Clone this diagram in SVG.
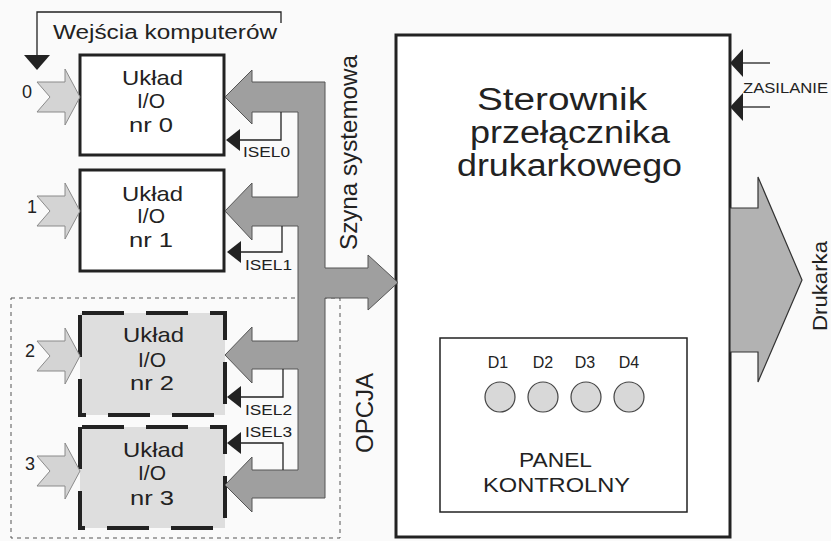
<svg xmlns="http://www.w3.org/2000/svg" width="831" height="541" viewBox="0 0 831 541">
<defs>
<style>
text{font-family:"Liberation Sans",Arial,sans-serif;fill:#222}
.box{fill:#fff;stroke:#222;stroke-width:3}
.dbox{fill:#dedede;stroke:#222;stroke-width:4;stroke-dasharray:42 22;stroke-dashoffset:-2}
.inp{fill:#d4d4d4;stroke:#8a8a8a;stroke-width:1}
.bus{fill:#9f9f9f;stroke:#555;stroke-width:1}
.ln{fill:none;stroke:#222;stroke-width:1.3}
.hd{fill:#222}
.bt{font-size:21px}
.isel{font-size:14px}
</style>
</defs>
<rect width="831" height="541" fill="#fafafa"/>
<g id="opcja">
<rect x="11" y="298" width="329" height="240" fill="none" stroke="#555" stroke-width="1" stroke-dasharray="4 4"/>
<text transform="translate(373,453) rotate(-90)" font-size="23" textLength="80" lengthAdjust="spacingAndGlyphs">OPCJA</text>
</g>
<g id="inputs-label">
<polyline class="ln" points="37,56 37,12 281,12 281,23"/>
<polygon class="hd" points="24,55 50,55 37,70"/>
<text x="53" y="39" font-size="20" textLength="224" lengthAdjust="spacingAndGlyphs">Wejścia  komputerów</text>
</g>
<g id="io0">
<rect class="box" x="80" y="55" width="144" height="100"/>
<text class="bt" x="122" y="85" textLength="61" lengthAdjust="spacingAndGlyphs">Układ</text>
<text class="bt" x="137" y="108" textLength="28" lengthAdjust="spacingAndGlyphs">I/O</text>
<text class="bt" x="129" y="132" textLength="44" lengthAdjust="spacingAndGlyphs">nr  0</text>
</g>
<g id="io1">
<rect class="box" x="80" y="170" width="144" height="101"/>
<text class="bt" x="122" y="201" textLength="61" lengthAdjust="spacingAndGlyphs">Układ</text>
<text class="bt" x="137" y="223" textLength="28" lengthAdjust="spacingAndGlyphs">I/O</text>
<text class="bt" x="129" y="247" textLength="44" lengthAdjust="spacingAndGlyphs">nr  1</text>
</g>
<g id="io2">
<rect class="dbox" x="80" y="313" width="145" height="102"/>
<text class="bt" x="123" y="342" textLength="61" lengthAdjust="spacingAndGlyphs">Układ</text>
<text class="bt" x="138" y="367" textLength="28" lengthAdjust="spacingAndGlyphs">I/O</text>
<text class="bt" x="130" y="390" textLength="44" lengthAdjust="spacingAndGlyphs">nr  2</text>
</g>
<g id="io3">
<rect class="dbox" x="80" y="427" width="145" height="101"/>
<text class="bt" x="123" y="457" textLength="61" lengthAdjust="spacingAndGlyphs">Układ</text>
<text class="bt" x="138" y="480" textLength="28" lengthAdjust="spacingAndGlyphs">I/O</text>
<text class="bt" x="130" y="505" textLength="44" lengthAdjust="spacingAndGlyphs">nr  3</text>
</g>
<g id="controller">
<rect x="396" y="35" width="334" height="502" fill="#fff" stroke="#222" stroke-width="3"/>
<text x="477" y="110" font-size="31" textLength="170" lengthAdjust="spacingAndGlyphs">Sterownik</text>
<text x="470" y="143" font-size="31" textLength="200" lengthAdjust="spacingAndGlyphs">przełącznika</text>
<text x="457" y="176" font-size="31" textLength="225" lengthAdjust="spacingAndGlyphs">drukarkowego</text>
</g>
<g id="panel">
<rect x="440" y="338" width="247" height="174" fill="#fff" stroke="#222" stroke-width="1.5"/>
<g font-size="16" text-anchor="middle">
<text x="498" y="368">D1</text>
<text x="543" y="368">D2</text>
<text x="585" y="368">D3</text>
<text x="629" y="368">D4</text>
</g>
<g fill="#d8d8d8" stroke="#444" stroke-width="1.2">
<circle cx="500" cy="397" r="15"/>
<circle cx="543" cy="397" r="15"/>
<circle cx="586" cy="397" r="15"/>
<circle cx="629" cy="397" r="15"/>
</g>
<text x="519" y="467" font-size="20" textLength="73" lengthAdjust="spacingAndGlyphs">PANEL</text>
<text x="483" y="492" font-size="20" textLength="147" lengthAdjust="spacingAndGlyphs">KONTROLNY</text>
</g>
<g id="connectors">
<g id="in0"><path class="inp" transform="translate(0,97)" d="M37,-15 L65,-15 L65,-28 L80,0 L65,28 L65,15 L37,15 L50,0 Z"/><text x="22" y="98" font-size="18">0</text></g>
<g id="in1"><path class="inp" transform="translate(0,211)" d="M37,-15 L65,-15 L65,-28 L80,0 L65,28 L65,15 L37,15 L50,0 Z"/><text x="27" y="213" font-size="18">1</text></g>
<g id="in2"><path class="inp" transform="translate(0,356)" d="M37,-15 L65,-15 L65,-28 L80,0 L65,28 L65,15 L37,15 L50,0 Z"/><text x="25" y="357" font-size="18">2</text></g>
<g id="in3"><path class="inp" transform="translate(0,471)" d="M37,-15 L65,-15 L65,-28 L80,0 L65,28 L65,15 L37,15 L50,0 Z"/><text x="25" y="470" font-size="18">3</text></g>
<path id="bus" class="bus" d="M225,97 L252,70 L252,82 L325,82 L325,268 L368,268 L368,255 L398,282.5 L368,310 L368,298 L325,298 L325,498 L252,498 L252,512 L225,485 L252,457 L252,470 L298,470 L298,369 L252,369 L252,383 L225,355 L252,327 L252,341 L298,341 L298,226 L252,226 L252,240 L225,211 L252,183 L252,197 L298,197 L298,112 L252,112 L252,124 Z"/>
<text transform="translate(357,250) rotate(-90)" font-size="23" textLength="195" lengthAdjust="spacingAndGlyphs">Szyna  systemowa</text>
<polyline class="ln" points="281,112 281,140 239,140"/>
<polygon class="hd" points="226,140 240,129 240,151"/>
<text class="isel" x="243" y="157" textLength="47" lengthAdjust="spacingAndGlyphs">ISEL0</text>
<polyline class="ln" points="282,226 282,252 239,252"/>
<polygon class="hd" points="227,252 241,241 241,263"/>
<text class="isel" x="245" y="270" textLength="47" lengthAdjust="spacingAndGlyphs">ISEL1</text>
<polyline class="ln" points="283,369 283,397 239,397"/>
<polygon class="hd" points="227,397 241,386 241,408"/>
<text class="isel" x="245" y="415" textLength="47" lengthAdjust="spacingAndGlyphs">ISEL2</text>
<polyline class="ln" points="283,470 283,443 239,443"/>
<polygon class="hd" points="227,443 241,432 241,454"/>
<text class="isel" x="245" y="437" textLength="47" lengthAdjust="spacingAndGlyphs">ISEL3</text>
<line class="ln" x1="743" y1="63" x2="770" y2="63"/>
<line class="ln" x1="743" y1="107" x2="770" y2="107"/>
<polygon class="hd" points="730,63 743,49 743,77"/>
<polygon class="hd" points="730,107 743,93 743,121"/>
<text x="743" y="93" font-size="15" textLength="85" lengthAdjust="spacingAndGlyphs">ZASILANIE</text>
<path fill="#b2b2b2" stroke="#333" stroke-width="1.2" d="M730,208 L758,208 L758,177 L802,280 L758,382 L758,352 L730,352 Z"/>
<text transform="translate(827,331) rotate(-90)" font-size="21" textLength="90" lengthAdjust="spacingAndGlyphs">Drukarka</text>
</g>
</svg>
